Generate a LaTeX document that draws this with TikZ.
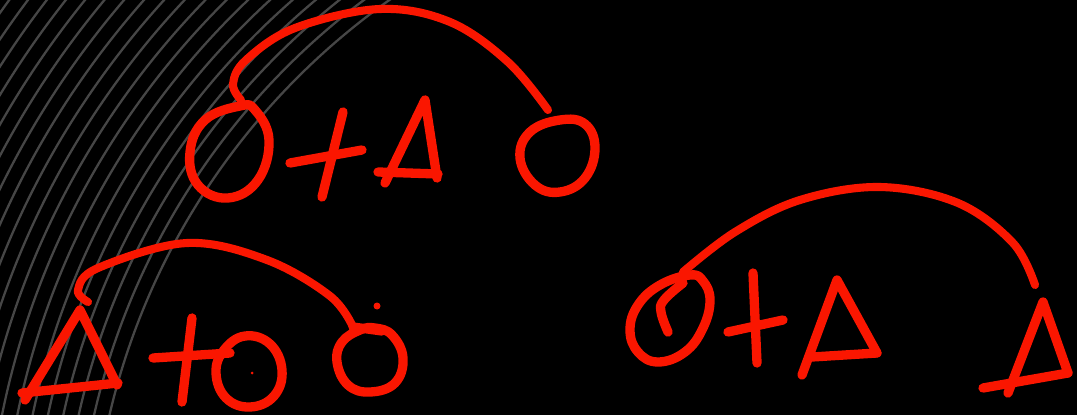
\documentclass[tikz,border=0pt]{standalone}
\definecolor{penred}{RGB}{250,22,0}
\definecolor{groovegray}{RGB}{70,70,70}
\begin{document}
\begin{tikzpicture}[x=0.02cm,y=-0.02cm,
  ink/.style={draw=penred,line width=5.3pt,line cap=round,line join=round},
  arcink/.style={ink,line width=4.6pt},
  groove/.style={draw=groovegray,line width=1.3pt}]
\useasboundingbox (0,0) rectangle (1077,415);
\fill[black] (0,0) rectangle (1077,415);
\begin{scope}
\clip (0,0) rectangle (1077,415);
\foreach \r in {705,720,...,1000} {\draw[groove] (796,576) circle[radius=\r];}
\end{scope}
% ---- top group: O + A  O
\draw[arcink] plot[smooth,tension=0.6] coordinates {(241,100) (233,84) (246,60) (295,28) (380,9) (450,22) (508,62) (548,110)};
\draw[ink] plot[smooth cycle,tension=0.7] coordinates {(240,106) (205,120) (190,152) (198,185) (228,198) (258,180) (269,140) (255,110)};
\draw[ink] (290,163) -- (362,150);
\draw[ink] (343,112) -- (322,197);
\draw[ink] (385,183) -- (425,100) -- (437,178);
\draw[ink] (378,172) -- (438,174);
\draw[ink] plot[smooth cycle,tension=0.7] coordinates {(560,120) (530,132) (520,158) (535,185) (560,192) (585,178) (595,148) (585,124)};
% ---- bottom-left group: Delta + O  o
\draw[arcink] plot[smooth,tension=0.6] coordinates {(88,302) (78,290) (98,268) (187,243) (267,260) (330,296) (353,327)};
\draw[ink] (25,400) -- (80,310) -- (117,385);
\draw[ink] (22,393) -- (118,383);
\draw[ink] (153,358) -- (230,353);
\draw[ink] (192,318) -- (182,402);
\draw[ink] plot[smooth cycle,tension=0.7] coordinates {(245,336) (224,350) (216,373) (226,398) (250,407) (274,396) (282,370) (270,344)};
\fill[penred] (252,373) circle[radius=1.5];
\draw[ink] plot[smooth cycle,tension=0.7] coordinates {(360,330) (342,342) (337,362) (348,385) (370,392) (395,383) (403,358) (392,335) (375,328)};
\draw[ink] (353,327) -- (382,331);
\fill[penred] (377,306) circle[radius=3.5];
% ---- right group: O + Delta  Delta
\draw[arcink] plot[smooth,tension=0.6] coordinates {(683,272) (735,232) (800,200) (880,187) (958,203) (1013,243) (1035,285)};
\draw[ink] plot[smooth cycle,tension=0.7] coordinates {(690,275) (660,285) (638,305) (630,330) (638,352) (658,362) (685,352) (703,328) (710,300) (703,281)};
\draw[ink] plot[smooth,tension=0.7] coordinates {(683,283) (664,300) (661,312) (668,332)};
\draw[ink] (728,332) -- (783,320);
\draw[ink] (753,273) -- (757,363);
\draw[ink] (802,375) -- (837,280) -- (877,353);
\draw[ink] (812,357) -- (877,353);
\draw[ink] (1008,393) -- (1043,302) -- (1068,373);
\draw[ink] (983,388) -- (1068,373);
\end{tikzpicture}
\end{document}
